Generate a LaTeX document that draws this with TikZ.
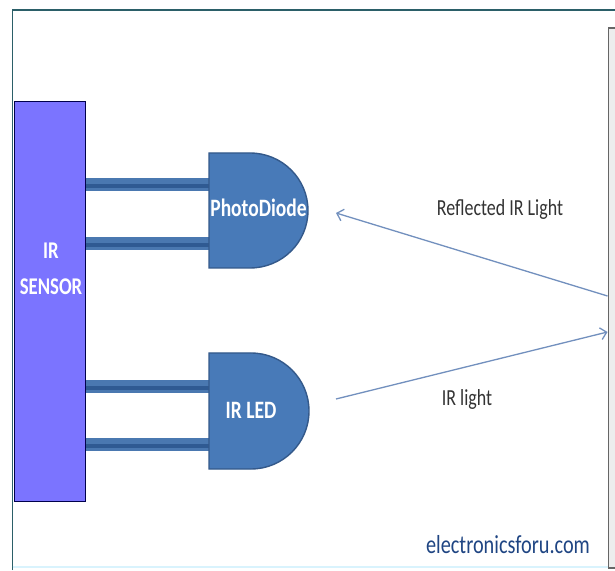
\documentclass[tikz,border=0pt]{standalone}
\usepackage{fontspec}
\setmainfont{Carlito}
\newfontfamily\narrowfont[FakeStretch=0.78]{Carlito}
\usepackage{tikz}
\usetikzlibrary{positioning,arrows.meta}
\definecolor{sensorblue}{HTML}{7B74FF}
\definecolor{diodeblue}{HTML}{487AB8}
\definecolor{diodeedge}{HTML}{34598A}
\definecolor{leadblue}{HTML}{4A78B0}
\definecolor{leaddark}{HTML}{2F5A92}
\definecolor{raycolor}{HTML}{7290BE}
\definecolor{framecolor}{HTML}{2B5F68}
\definecolor{sitecolor}{HTML}{1F4583}
\tikzset{x=1pt, y=1pt, node distance=10pt,
  sensorbox/.style={draw=blue!30!black, line width=1pt, fill=sensorblue, minimum width=71pt, minimum height=399pt, inner sep=0pt},
  sensorlabel/.style={text=white, align=center, inner sep=0pt, font=\fontsize{24}{36}\selectfont\narrowfont\bfseries},
  wallbox/.style={draw=black!60, line width=1.6pt, fill=black!7, minimum width=20pt, minimum height=540pt, anchor=north west, inner sep=0pt},
  dome/.style={draw=diodeedge, line width=1.4pt, fill=diodeblue},
  domelabel/.style={text=white, font=\fontsize{25}{27}\selectfont\narrowfont\bfseries, inner sep=0pt},
  lead/.style={line width=13pt, draw=leadblue, postaction={draw=leaddark, line width=4pt, transform canvas={yshift=-1.5pt}}},
  ray/.style={draw=raycolor, line width=1.3pt, -{Straight Barb[length=6pt,width=12pt]}},
  raylabel/.style={text=black!80, font=\fontsize{23}{26}\selectfont\narrowfont, inner sep=0pt},
}
\begin{document}
\begin{tikzpicture}
  \useasboundingbox (0,0) rectangle (615,570);
  \fill[white] (0,0) rectangle (615,570);

  % outer frame
  \coordinate (frameTL) at (12.5,560);
  \coordinate (frameTR) at (615,560);
  \coordinate (frameBL) at (12.5,0);
  \coordinate (frameBR) at (615,3);
  \draw[framecolor, line width=1.2pt] (frameBL) -- (frameTL) -- (frameTR);
  \draw[cyan!15, line width=1.5pt] (frameBL |- frameBR) -- (frameBR);

  \node (sensor) [sensorbox] at (49.5,268.5) {};
  \node (sensorText) [sensorlabel] at (51,301.5) {IR\\SENSOR};
  \node (wall) [wallbox] at (607.5,543) {};

  % photodiode and its leads
  \coordinate (pdA) at (209,417);
  \coordinate (pdB) at (209,302);
  \coordinate (pdLeadA) at (209,385);
  \coordinate (pdLeadB) at (209,326);
  \draw [lead] (sensor.east |- pdLeadA) -- (pdLeadA);
  \draw [lead] (sensor.east |- pdLeadB) -- (pdLeadB);
  \draw [dome] (pdA) -- ++(41,0) arc[start angle=90, end angle=-90, x radius=58, y radius=57.5] -- (pdB) -- cycle;
  \node (pdText) [domelabel] at (258.5,362) {PhotoDiode};

  % led and its leads
  \coordinate (ledA) at (209,217);
  \coordinate (ledB) at (209,101);
  \coordinate (ledLeadA) at (209,183.5);
  \coordinate (ledLeadB) at (209,125);
  \draw [lead] (sensor.east |- ledLeadA) -- (ledLeadA);
  \draw [lead] (sensor.east |- ledLeadB) -- (ledLeadB);
  \draw [dome] (ledA) -- ++(42,0) arc[start angle=90, end angle=-90, x radius=58, y radius=58] -- (ledB) -- cycle;
  \node (ledText) [domelabel] at (251,160) {IR LED};

  % light rays
  \coordinate (rayOut) at (336,171);
  \coordinate (rayIn) at (336,357);
  \draw [ray] (rayOut) -- (wall.west |- 0,238);
  \draw [ray] (wall.west |- 0,274) -- (rayIn);

  \node (reflected) [raylabel] at (500,361) {Reflected IR Light};
  \node (irlight) [raylabel] at (467,171) {IR light};
  \node (site) [text=sitecolor, font=\fontsize{26}{28}\selectfont\narrowfont, inner sep=0pt] at (508,25) {electronicsforu.com};
\end{tikzpicture}
\end{document}
